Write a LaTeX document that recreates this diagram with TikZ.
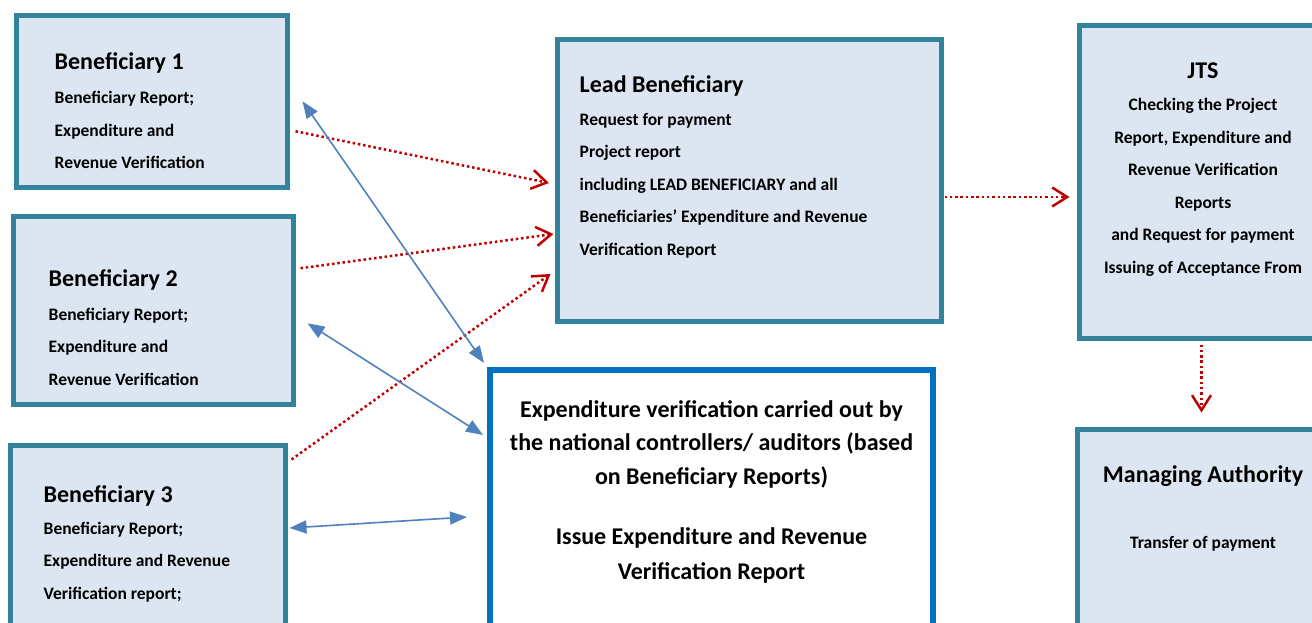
\documentclass[tikz,border=0pt]{standalone}
\usepackage{fontspec}
\setmainfont{Carlito}
\usetikzlibrary{arrows.meta,calc}
\definecolor{boxline}{HTML}{31849B}
\definecolor{boxfill}{HTML}{DCE6F2}
\definecolor{audline}{HTML}{0070C0}
\definecolor{linkblue}{HTML}{4F81BD}
\definecolor{flowred}{HTML}{C00000}
\tikzset{
  partner/.style={draw=boxline,fill=boxfill,line width=5pt,minimum width=#1},
  partner/.default=270pt,
  auditbox/.style={draw=audline,fill=white,line width=6pt},
  boxtext/.style={inner sep=0pt,align=left,font=\fontsize{17.5}{32.5}\selectfont\bfseries},
  midtext/.style={boxtext,align=center},
  flow/.style={draw=flowred,line width=2.5pt,dash pattern=on 2.5pt off 2.8pt,
    -{Straight Barb[length=15pt,width=19pt,line width=2.5pt]}},
  link/.style={draw=linkblue,line width=1.6pt,
    {Triangle[length=17pt,width=13pt]}-{Triangle[length=17pt,width=13pt]}}
}
\def\ttl#1{{\fontsize{24}{28}\selectfont #1}}
\begin{document}
\begin{tikzpicture}[x=1pt,y=-1pt]
  \clip (0,0) rectangle (1312,623);
  % boxes
  \node[partner=271pt,minimum height=171.5pt] (b1) at (152,101.25) {};
  \node[partner=280pt,minimum height=187.5pt] (b2) at (153.5,310.25) {};
  \node[partner=275pt,minimum height=215pt] (b3) at (148,553) {};
  \node[partner=384pt,minimum height=282pt] (lead) at (749.5,180.5) {};
  \node[partner=261pt,minimum height=313pt] (jts) at (1210,182) {};
  \node[partner=263pt,minimum height=231pt] (ma) at (1209,545) {};
  \node[auditbox,minimum width=443pt,minimum height=290pt] (aud) at (711.5,515) {};
  % texts
  \node[boxtext,anchor=north west] (b1t) at ($(b1.north west)+(40.5,39)$)
    {\ttl{Beneficiary 1}\\[2pt]Beneficiary Report;\\Expenditure and\\Revenue Verification};
  \node[boxtext,anchor=north west] (b2t) at ($(b2.north west)+(37.5,55)$)
    {\ttl{Beneficiary 2}\\[1.5pt]Beneficiary Report;\\Expenditure and\\Revenue Verification};
  \node[boxtext,anchor=north west] (b3t) at ($(b3.north west)+(35.5,42)$)
    {\ttl{Beneficiary 3}\\[-0.5pt]Beneficiary Report;\\Expenditure and Revenue\\Verification report;};
  \node[boxtext,anchor=north west] (leadt) at ($(lead.north west)+(24.5,38)$)
    {\ttl{Lead Beneficiary}\\[0.5pt]Request for payment\\Project report\\including LEAD BENEFICIARY and all\\Beneficiaries’ Expenditure and Revenue\\Verification Report};
  \node[midtext,anchor=north] (jtst) at (1203,62.5)
    {\ttl{JTS}\\[0pt]Checking the Project\\Report, Expenditure and\\Revenue Verification\\Reports\\and Request for payment\\Issuing of Acceptance From};
  \node[midtext,anchor=north] (mat) at (1203,465.5)
    {\ttl{Managing Authority}\\[33pt]Transfer of payment};
  \node[midtext,anchor=north,font=\fontsize{24}{33.5}\selectfont\bfseries] (audt) at (711.5,400)
    {Expenditure verification carried out by\\the national controllers/ auditors (based\\on Beneficiary Reports)\\[27pt]Issue Expenditure and Revenue\\[1.5pt]Verification Report};
  % red flow
  \draw[flow] ($(b1.east)+(5.5,30)$) -- ($(lead.west)+(-6,2.5)$);
  \draw[flow] ($(b2.east)+(4.5,-42)$) -- ($(lead.west)+(-1.5,53.5)$);
  \draw[flow] ($(b3.north east)+(3.5,16.5)$) -- ($(lead.west)+(-4.5,93.5)$);
  \draw[flow] ($(lead.east)+(0.5,16.5)$) -- ($(jts.west)+(-7.5,15)$);
  \draw[flow] ($(jts.south west)+(124.5,3.5)$) -- ($(ma.north west)+(126.5,-14.5)$);
  % blue links
  \draw[link] ($(b1.east)+(12.5,0)$) -- ($(aud.north west)+(-3,-4)$);
  \draw[link] ($(b2.east)+(11.5,13)$) -- ($(aud.west)+(-4,-80)$);
  \draw[link] ($(b3.east)+(1.5,-25)$) -- ($(aud.west)+(-20,2)$);
\end{tikzpicture}
\end{document}
